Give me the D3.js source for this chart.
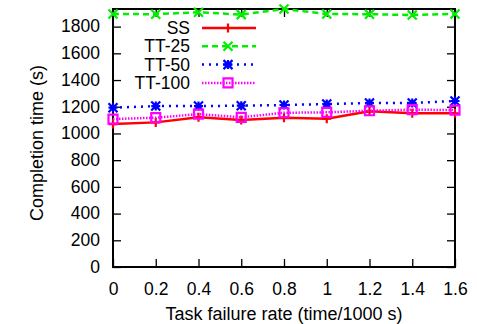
<!DOCTYPE html>
<html>
<head>
<meta charset="utf-8">
<script src="https://cdn.jsdelivr.net/npm/d3@7"></script>
<style>
  body { margin: 0; background: #fff; }
  svg text { font-family: "Liberation Sans", Arial, sans-serif; fill: #000; }
</style>
</head>
<body>
<svg id="chart" width="477" height="324"></svg>
<script>
// failure rates (time / 1000 s)
const rates = [0, 0.2, 0.4, 0.6, 0.8, 1, 1.2, 1.4, 1.6];
const ss    = [1070, 1083, 1121, 1100, 1118, 1110, 1166, 1151, 1151];
const tt25  = [1895, 1893, 1908, 1890, 1932, 1895, 1893, 1887, 1895];
const tt50  = [1193, 1205, 1205, 1208, 1213, 1220, 1228, 1228, 1243];
const tt100 = [1108, 1118, 1145, 1121, 1155, 1158, 1170, 1178, 1175];
const seriesNames = ['SS', 'TT-25', 'TT-50', 'TT-100'];
const yTicks = [0, 200, 400, 600, 800, 1000, 1200, 1400, 1600, 1800];

const plot = { left: 113, right: 455, top: 9, bottom: 267 };
const svg = d3.select('#chart');

const x = d3.scaleLinear().domain([0, 1.6]).range([plot.left, plot.right]);
const y = d3.scaleLinear().domain([0, 1932]).range([plot.bottom, plot.top]);

const styles = [
    { color: '#ff0000', dash: null, marker: 'plus' },
    { color: '#00ee00', dash: '6,4', marker: 'cross' },
    { color: '#0000ff', dash: '2,5', marker: 'star' },
    { color: '#ff00ff', dash: '1.5,1.5', marker: 'square' }
];
const allSeries = [ss, tt25, tt50, tt100];

function markerPath(type, s) {
    const h = s / 2;
    if (type === 'plus') return `M${-h},0H${h}M0,${-h}V${h}`;
    if (type === 'cross') return `M${-h},${-h}L${h},${h}M${-h},${h}L${h},${-h}`;
    if (type === 'star') return `M${-h},0H${h}M0,${-h}V${h}M${-h},${-h}L${h},${h}M${-h},${h}L${h},${-h}`;
    return `M${-h},${-h}H${h}V${h}H${-h}Z`;
}

// axes: ticks point inward, mirrored on the top and right borders
svg.append('g')
    .attr('transform', `translate(0,${plot.bottom})`)
    .call(d3.axisBottom(x).tickValues(rates).tickSizeInner(-8).tickSizeOuter(0).tickPadding(16).tickFormat(d3.format('')))
    .call(g => g.select('.domain').remove())
    .call(g => g.selectAll('text').attr('font-size', '17.5px'));
svg.append('g')
    .attr('transform', `translate(0,${plot.top})`)
    .call(d3.axisTop(x).tickValues(rates).tickSizeInner(-8).tickSizeOuter(0).tickFormat(''))
    .call(g => g.select('.domain').remove());
svg.append('g')
    .attr('transform', `translate(${plot.left},0)`)
    .call(d3.axisLeft(y).tickValues(yTicks).tickSizeInner(-8).tickSizeOuter(0).tickPadding(13).tickFormat(d3.format('d')))
    .call(g => g.select('.domain').remove())
    .call(g => g.selectAll('text').attr('font-size', '17.5px').attr('dy', '0.3em'));
svg.append('g')
    .attr('transform', `translate(${plot.right},0)`)
    .call(d3.axisRight(y).tickValues(yTicks).tickSizeInner(-8).tickSizeOuter(0).tickFormat(''))
    .call(g => g.select('.domain').remove());
svg.selectAll('.tick line').attr('stroke', '#000').attr('stroke-width', 1.3);

svg.append('rect')
    .attr('x', plot.left).attr('y', plot.top)
    .attr('width', plot.right - plot.left).attr('height', plot.bottom - plot.top)
    .attr('fill', 'none').attr('stroke', '#000').attr('stroke-width', 2);

// series
const line = d3.line().x((d, i) => x(rates[i])).y(d => y(d));
allSeries.forEach((vals, k) => {
    const st = styles[k];
    svg.append('path')
        .datum(vals)
        .attr('d', line)
        .attr('fill', 'none')
        .attr('stroke', st.color)
        .attr('stroke-width', 2.5)
        .attr('stroke-dasharray', st.dash);
    svg.append('g').selectAll('path')
        .data(vals)
        .join('path')
        .attr('transform', (d, i) => `translate(${x(rates[i])},${y(d)})`)
        .attr('d', markerPath(st.marker, 9))
        .attr('fill', 'none')
        .attr('stroke', st.color)
        .attr('stroke-width', 2.2);
});

// legend
const legend = svg.append('g');
seriesNames.forEach((name, k) => {
    const st = styles[k];
    const ly = 28 + k * 18.3;
    legend.append('text')
        .attr('x', 190).attr('y', ly)
        .attr('dy', '0.35em')
        .attr('text-anchor', 'end')
        .attr('font-size', '17.5px')
        .text(name);
    legend.append('line')
        .attr('x1', 202).attr('x2', 256)
        .attr('y1', ly).attr('y2', ly)
        .attr('stroke', st.color)
        .attr('stroke-width', 2.5)
        .attr('stroke-dasharray', st.dash);
    legend.append('path')
        .attr('transform', `translate(228,${ly})`)
        .attr('d', markerPath(st.marker, 9))
        .attr('fill', 'none')
        .attr('stroke', st.color)
        .attr('stroke-width', 2.2);
});

// axis titles
svg.append('text')
    .attr('x', 284).attr('y', 320)
    .attr('text-anchor', 'middle')
    .attr('font-size', '18px')
    .text('Task failure rate (time/1000 s)');
svg.append('text')
    .attr('transform', 'translate(43,143) rotate(-90)')
    .attr('text-anchor', 'middle')
    .attr('font-size', '18px')
    .text('Completion time (s)');
</script>
</body>
</html>
